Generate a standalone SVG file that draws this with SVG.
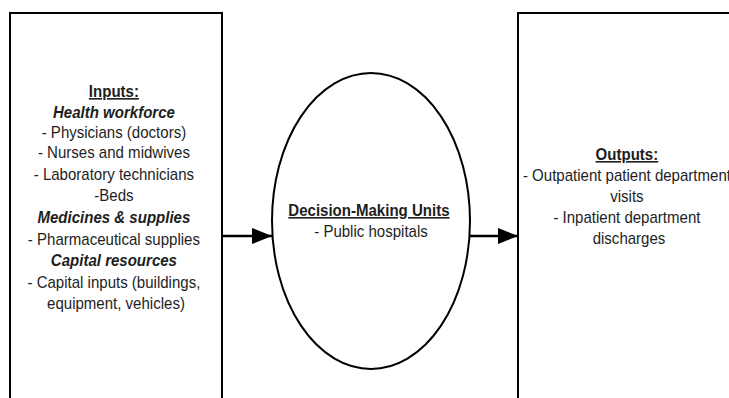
<svg xmlns="http://www.w3.org/2000/svg" width="729" height="398" viewBox="0 0 729 398">
<defs>
<style>
.box{fill:#fff;stroke:#000;stroke-width:2}
.t{font-family:"Liberation Sans",Arial,sans-serif;font-size:16px;fill:#1e1e1e;text-anchor:middle}
.b{font-weight:bold}
.u{text-decoration:underline}
.i{font-style:italic;font-weight:bold}
.c{stroke:#000;stroke-width:2.5;fill:none}
</style>
<marker id="ah" viewBox="0 0 20 16" refX="20" refY="8" markerWidth="20" markerHeight="16" markerUnits="userSpaceOnUse" orient="auto">
<path d="M0,0 L20,8 L0,16 Z" fill="#000"/>
</marker>
</defs>
<rect width="729" height="398" fill="#fff"/>
<g id="inputs">
<path class="box" d="M10,410 V13 H222 V410"/>
<text class="t" transform="translate(116 0) scale(0.94 1)">
<tspan class="b u" x="0" y="97">Inputs:</tspan>
<tspan class="i" x="0" y="118">Health workforce</tspan>
<tspan x="0" y="138">- Physicians (doctors)</tspan>
<tspan x="0" y="158">- Nurses and midwives</tspan>
<tspan x="0" y="180">- Laboratory technicians</tspan>
<tspan x="0" y="201">-Beds</tspan>
<tspan class="i" x="0" y="223">Medicines &amp; supplies</tspan>
<tspan x="0" y="245">- Pharmaceutical supplies</tspan>
<tspan class="i" x="0" y="266">Capital resources</tspan>
<tspan x="0" y="288">- Capital inputs (buildings,</tspan>
<tspan x="0" y="309">equipment, vehicles)</tspan>
</text>
</g>
<g id="dmu">
<ellipse cx="371" cy="221" rx="99" ry="148" fill="#fff" stroke="#000" stroke-width="2"/>
<text class="t" transform="translate(371 0) scale(0.94 1)">
<tspan class="b u" x="0" y="216">Decision-Making Units</tspan>
<tspan x="0" y="237">- Public hospitals</tspan>
</text>
</g>
<g id="outputs">
<path class="box" d="M518,410 V13 H740"/>
<text class="t" transform="translate(629 0) scale(0.94 1)">
<tspan class="b u" x="0" y="160">Outputs:</tspan>
<tspan x="0" y="181">- Outpatient patient department</tspan>
<tspan x="0" y="202">visits</tspan>
<tspan x="0" y="223">- Inpatient department</tspan>
<tspan x="0" y="244">discharges</tspan>
</text>
</g>
<g id="connectors">
<line class="c" x1="222" y1="236" x2="272" y2="236" marker-end="url(#ah)"/>
<line class="c" x1="470" y1="236" x2="518" y2="236" marker-end="url(#ah)"/>
</g>
</svg>
